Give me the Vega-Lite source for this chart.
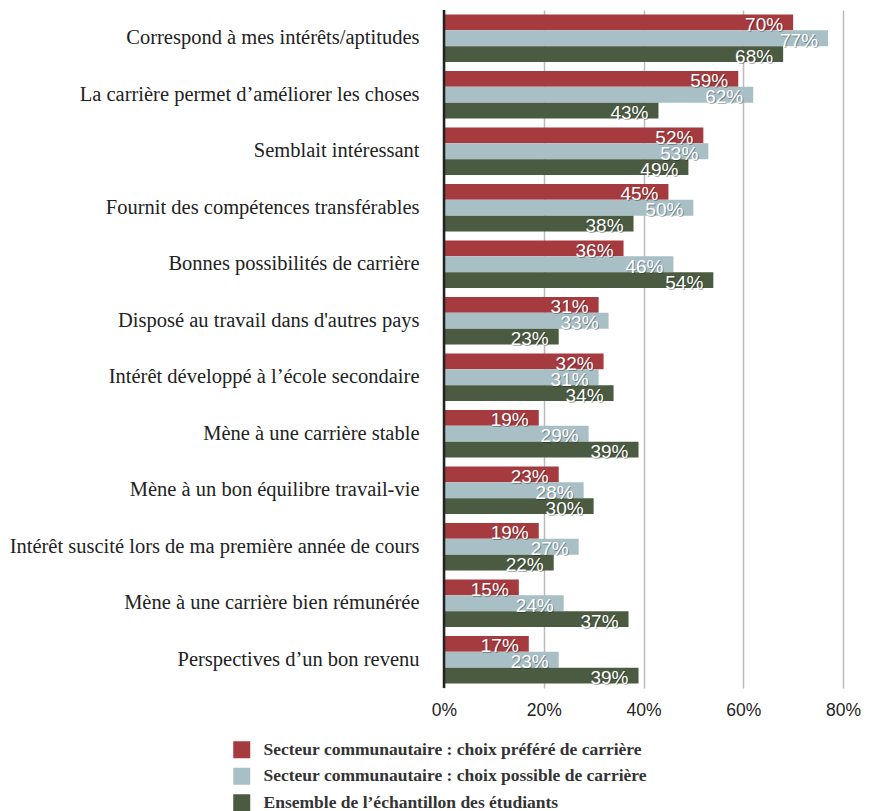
{
  "$schema": "https://vega.github.io/schema/vega-lite/v6.json",
  "autosize": {"type": "none"},
  "width": 399,
  "height": 678,
  "padding": {"left": 444, "top": 10, "right": 33, "bottom": 123},
  "background": "white",
  "config": {"view": {"stroke": null}},
  "data": {"values": [
    {"cat": "Correspond à mes intérêts/aptitudes", "s": "Secteur communautaire : choix préféré de carrière", "v": 70},
    {"cat": "Correspond à mes intérêts/aptitudes", "s": "Secteur communautaire : choix possible de carrière", "v": 77},
    {"cat": "Correspond à mes intérêts/aptitudes", "s": "Ensemble de l’échantillon des étudiants", "v": 68},
    {"cat": "La carrière permet d’améliorer les choses", "s": "Secteur communautaire : choix préféré de carrière", "v": 59},
    {"cat": "La carrière permet d’améliorer les choses", "s": "Secteur communautaire : choix possible de carrière", "v": 62},
    {"cat": "La carrière permet d’améliorer les choses", "s": "Ensemble de l’échantillon des étudiants", "v": 43},
    {"cat": "Semblait intéressant", "s": "Secteur communautaire : choix préféré de carrière", "v": 52},
    {"cat": "Semblait intéressant", "s": "Secteur communautaire : choix possible de carrière", "v": 53},
    {"cat": "Semblait intéressant", "s": "Ensemble de l’échantillon des étudiants", "v": 49},
    {"cat": "Fournit des compétences transférables", "s": "Secteur communautaire : choix préféré de carrière", "v": 45},
    {"cat": "Fournit des compétences transférables", "s": "Secteur communautaire : choix possible de carrière", "v": 50},
    {"cat": "Fournit des compétences transférables", "s": "Ensemble de l’échantillon des étudiants", "v": 38},
    {"cat": "Bonnes possibilités de carrière", "s": "Secteur communautaire : choix préféré de carrière", "v": 36},
    {"cat": "Bonnes possibilités de carrière", "s": "Secteur communautaire : choix possible de carrière", "v": 46},
    {"cat": "Bonnes possibilités de carrière", "s": "Ensemble de l’échantillon des étudiants", "v": 54},
    {"cat": "Disposé au travail dans d'autres pays", "s": "Secteur communautaire : choix préféré de carrière", "v": 31},
    {"cat": "Disposé au travail dans d'autres pays", "s": "Secteur communautaire : choix possible de carrière", "v": 33},
    {"cat": "Disposé au travail dans d'autres pays", "s": "Ensemble de l’échantillon des étudiants", "v": 23},
    {"cat": "Intérêt développé à l’école secondaire", "s": "Secteur communautaire : choix préféré de carrière", "v": 32},
    {"cat": "Intérêt développé à l’école secondaire", "s": "Secteur communautaire : choix possible de carrière", "v": 31},
    {"cat": "Intérêt développé à l’école secondaire", "s": "Ensemble de l’échantillon des étudiants", "v": 34},
    {"cat": "Mène à une carrière stable", "s": "Secteur communautaire : choix préféré de carrière", "v": 19},
    {"cat": "Mène à une carrière stable", "s": "Secteur communautaire : choix possible de carrière", "v": 29},
    {"cat": "Mène à une carrière stable", "s": "Ensemble de l’échantillon des étudiants", "v": 39},
    {"cat": "Mène à un bon équilibre travail-vie", "s": "Secteur communautaire : choix préféré de carrière", "v": 23},
    {"cat": "Mène à un bon équilibre travail-vie", "s": "Secteur communautaire : choix possible de carrière", "v": 28},
    {"cat": "Mène à un bon équilibre travail-vie", "s": "Ensemble de l’échantillon des étudiants", "v": 30},
    {"cat": "Intérêt suscité lors de ma première année de cours", "s": "Secteur communautaire : choix préféré de carrière", "v": 19},
    {"cat": "Intérêt suscité lors de ma première année de cours", "s": "Secteur communautaire : choix possible de carrière", "v": 27},
    {"cat": "Intérêt suscité lors de ma première année de cours", "s": "Ensemble de l’échantillon des étudiants", "v": 22},
    {"cat": "Mène à une carrière bien rémunérée", "s": "Secteur communautaire : choix préféré de carrière", "v": 15},
    {"cat": "Mène à une carrière bien rémunérée", "s": "Secteur communautaire : choix possible de carrière", "v": 24},
    {"cat": "Mène à une carrière bien rémunérée", "s": "Ensemble de l’échantillon des étudiants", "v": 37},
    {"cat": "Perspectives d’un bon revenu", "s": "Secteur communautaire : choix préféré de carrière", "v": 17},
    {"cat": "Perspectives d’un bon revenu", "s": "Secteur communautaire : choix possible de carrière", "v": 23},
    {"cat": "Perspectives d’un bon revenu", "s": "Ensemble de l’échantillon des étudiants", "v": 39}
  ]},
  "encoding": {
    "y": {
      "field": "cat", "type": "nominal", "sort": null, "title": null,
      "scale": {"paddingInner": 0.16, "paddingOuter": 0.08},
      "axis": {"labelFont": "Liberation Serif", "labelFontSize": 20.5, "labelColor": "#222222", "labelPadding": 25, "ticks": false, "domain": false, "labelLimit": 440}
    },
    "yOffset": {
      "field": "s", "type": "nominal",
      "sort": ["Secteur communautaire : choix préféré de carrière", "Secteur communautaire : choix possible de carrière", "Ensemble de l’échantillon des étudiants"]
    },
    "x": {
      "field": "v", "type": "quantitative", "title": null,
      "scale": {"domain": [0, 80], "nice": false},
      "axis": {"values": [0, 20, 40, 60, 80], "labelExpr": "datum.value + '%'", "labelFont": "Liberation Sans", "labelFontSize": 17.5, "labelColor": "#222222", "labelPadding": 13, "ticks": false, "domain": false, "grid": true, "gridColor": "#BBBBBB", "gridWidth": 1.5, "labelFlush": false}
    }
  },
  "layer": [
    {
      "mark": {"type": "bar"},
      "encoding": {
        "color": {
          "field": "s", "type": "nominal", "title": null,
          "sort": ["Secteur communautaire : choix préféré de carrière", "Secteur communautaire : choix possible de carrière", "Ensemble de l’échantillon des étudiants"],
          "scale": {"range": ["#A63B3F", "#A8BFC6", "#4B5B42"]},
          "legend": {"orient": "none", "legendX": -211, "legendY": 731, "direction": "vertical", "symbolType": "square", "symbolSize": 289, "symbolStrokeWidth": 0, "labelFont": "Liberation Serif", "labelFontSize": 17.5, "labelFontWeight": "bold", "labelColor": "#333333", "rowPadding": 7.5, "labelOffset": 13, "labelLimit": 500}
        }
      }
    },
    {
      "mark": {"type": "rule", "color": "#222222", "strokeWidth": 2.5},
      "data": {"values": [{"z": 0}]},
      "encoding": {"x": {"field": "z", "type": "quantitative"}, "y": null, "yOffset": null}
    },
    {
      "mark": {"type": "text", "align": "right", "baseline": "middle", "dx": -9, "dy": 3.5, "font": "Liberation Sans", "fontSize": 19, "color": "#000000", "opacity": 0.3, "text": {"expr": "datum.v + '%'"}},
      "encoding": {}
    },
    {
      "mark": {"type": "text", "align": "right", "baseline": "middle", "dx": -10, "dy": 2.5, "font": "Liberation Sans", "fontSize": 19, "color": "white", "text": {"expr": "datum.v + '%'"}},
      "encoding": {}
    }
  ]
}
